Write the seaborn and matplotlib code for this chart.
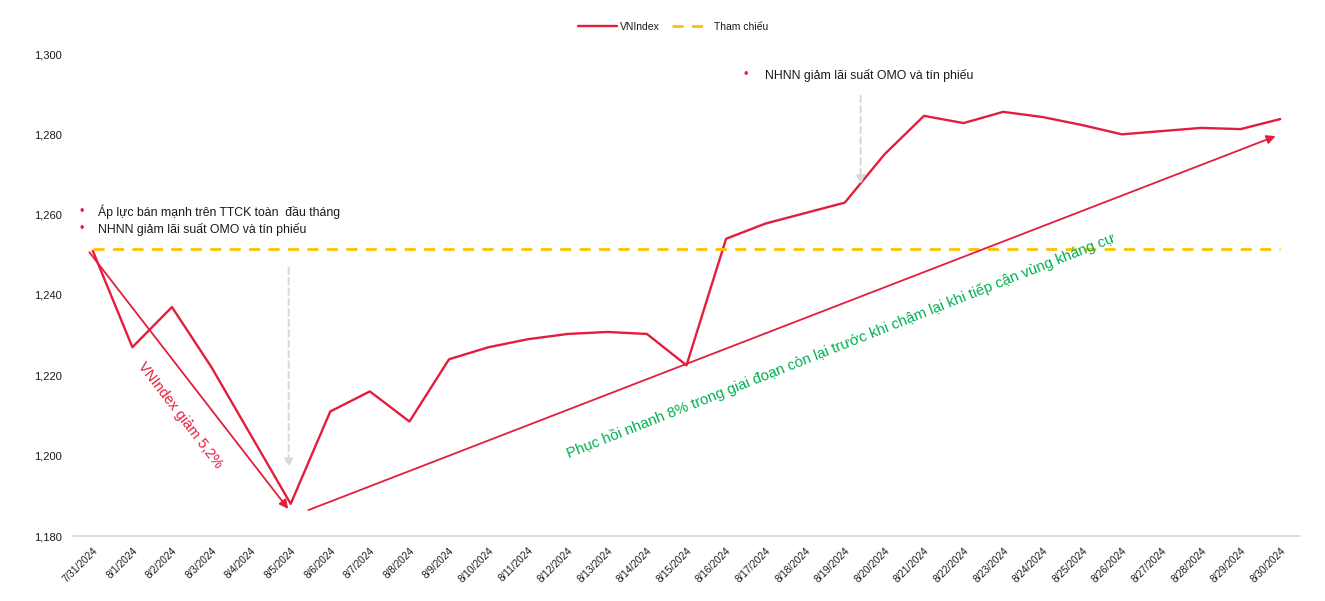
import pandas as pd
import numpy as np
import matplotlib
matplotlib.use("Agg")
import matplotlib.pyplot as plt
import seaborn as sns
from matplotlib import font_manager

# Data
dates = ["7/31/2024", "8/1/2024", "8/2/2024", "8/3/2024", "8/4/2024", "8/5/2024",
         "8/6/2024", "8/7/2024", "8/8/2024", "8/9/2024", "8/10/2024", "8/11/2024",
         "8/12/2024", "8/13/2024", "8/14/2024", "8/15/2024", "8/16/2024", "8/17/2024",
         "8/18/2024", "8/19/2024", "8/20/2024", "8/21/2024", "8/22/2024", "8/23/2024",
         "8/24/2024", "8/25/2024", "8/26/2024", "8/27/2024", "8/28/2024", "8/29/2024",
         "8/30/2024"]
vnindex = [1251.0, 1227.0, 1237.0, 1222.0, 1205.0, 1188.0,
           1211.0, 1216.0, 1208.5, 1224.0, 1227.0, 1229.0,
           1230.3, 1230.8, 1230.3, 1222.5, 1254.0, 1257.8,
           1260.4, 1263.0, 1275.0, 1284.6, 1282.8, 1285.6,
           1284.3, 1282.3, 1280.0, 1280.8, 1281.6, 1281.3,
           1283.8]
reference_level = 1251.5
yticks = [1180, 1200, 1220, 1240, 1260, 1280, 1300]

RED = "#E31E3C"
GOLD = "#FFC000"
GREEN = "#00B050"
GRAY = "#D9D9D9"
INK = "#1A1A1A"

sns.set_style("white")
names = {f.name for f in font_manager.fontManager.ttflist}
main_font = "Liberation Sans Narrow" if "Liberation Sans Narrow" in names else "Liberation Sans"
plt.rcParams["font.family"] = [main_font, "DejaVu Sans"]

df = pd.DataFrame({"idx": np.arange(len(dates)), "date": dates, "VNIndex": vnindex})
df["Tham chiếu"] = reference_level

fig = plt.figure(figsize=(13.25, 6.01), dpi=100)
ax = fig.add_axes([73 / 1325, 1 - 536 / 601, (1300 - 73) / 1325, (536 - 54) / 601])

sns.lineplot(data=df, x="idx", y="VNIndex", color=RED, linewidth=1.7, ax=ax, label="VNIndex")
sns.lineplot(data=df, x="idx", y="Tham chiếu", color=GOLD, linewidth=2,
             linestyle=(0, (4, 3)), ax=ax, label="Tham chiếu")

ax.set_xlim(-0.5, len(dates) - 0.5)
ax.set_ylim(1180, 1300)
ax.set_yticks(yticks)
ax.set_yticklabels([f"{v:,}" for v in yticks], fontsize=8, color=INK)
ax.set_xticks(df["idx"])
ax.set_xticklabels(dates, rotation=45, ha="right", rotation_mode="anchor",
                   fontsize=7.2, color=INK)
ax.set_xticks(np.arange(len(dates) + 1) - 0.5, minor=True)
ax.tick_params(axis="x", which="major", length=0, pad=7)
ax.tick_params(axis="x", which="minor", length=4, color=GRAY, width=1)
ax.tick_params(axis="y", length=0, pad=8)
ax.set_xlabel("")
ax.set_ylabel("")
for side in ["top", "right", "left"]:
    ax.spines[side].set_visible(False)
ax.spines["bottom"].set_color(GRAY)
ax.spines["bottom"].set_linewidth(1.2)

leg = ax.legend(loc="center", bbox_to_anchor=(0.508, 0.955), bbox_transform=fig.transFigure,
                ncol=2, frameon=False, fontsize=7.5, handlelength=3.7, columnspacing=1.2,
                handletextpad=0.3)
for t in leg.get_texts():
    t.set_color(INK)

# trend arrows
ax.annotate("", xy=(4.98, 1186.2), xytext=(-0.13, 1251.2),
            arrowprops=dict(arrowstyle="-|>", color=RED, lw=1.3, mutation_scale=13))
ax.annotate("", xy=(29.95, 1279.8), xytext=(5.38, 1186.2),
            arrowprops=dict(arrowstyle="-|>", color=RED, lw=1.3, mutation_scale=13))

# event markers
ax.annotate("", xy=(4.95, 1196.4), xytext=(4.95, 1247.5),
            arrowprops=dict(arrowstyle="-|>", color=GRAY, lw=1.5, linestyle=(0, (3, 2)),
                            mutation_scale=12))
ax.annotate("", xy=(19.4, 1266.9), xytext=(19.4, 1290.3),
            arrowprops=dict(arrowstyle="-|>", color=GRAY, lw=1.5, linestyle=(0, (3, 2)),
                            mutation_scale=12))

# labels
ax.text(2.2, 1210, "VNIndex giảm 5,2%", color=RED, fontsize=10.5, rotation=-52.5,
        ha="center", va="center", rotation_mode="anchor")
ax.text(18.9, 1227.3, "Phục hồi nhanh 8% trong giai đoạn còn lại trước khi chậm lại khi tiếp cận vùng kháng cự",
        color=GREEN, fontsize=10.8, rotation=21.6, ha="center", va="center",
        rotation_mode="anchor")

bullets_left = ["Áp lực bán mạnh trên TTCK toàn  đầu tháng",
                "NHNN giảm lãi suất OMO và tín phiếu"]
for i, txt in enumerate(bullets_left):
    y = 1 - (212 + 17 * i) / 601
    fig.text(82 / 1325, y, "•", color=RED, fontsize=9, ha="center", va="center")
    fig.text(98 / 1325, y, txt, color=INK, fontsize=8.8, ha="left", va="center")

fig.text(746 / 1325, 1 - 75 / 601, "•", color=RED, fontsize=9, ha="center", va="center")
fig.text(765 / 1325, 1 - 75 / 601, "NHNN giảm lãi suất OMO và tín phiếu", color=INK,
         fontsize=8.8, ha="left", va="center")

fig.savefig("out.png", dpi=100)
